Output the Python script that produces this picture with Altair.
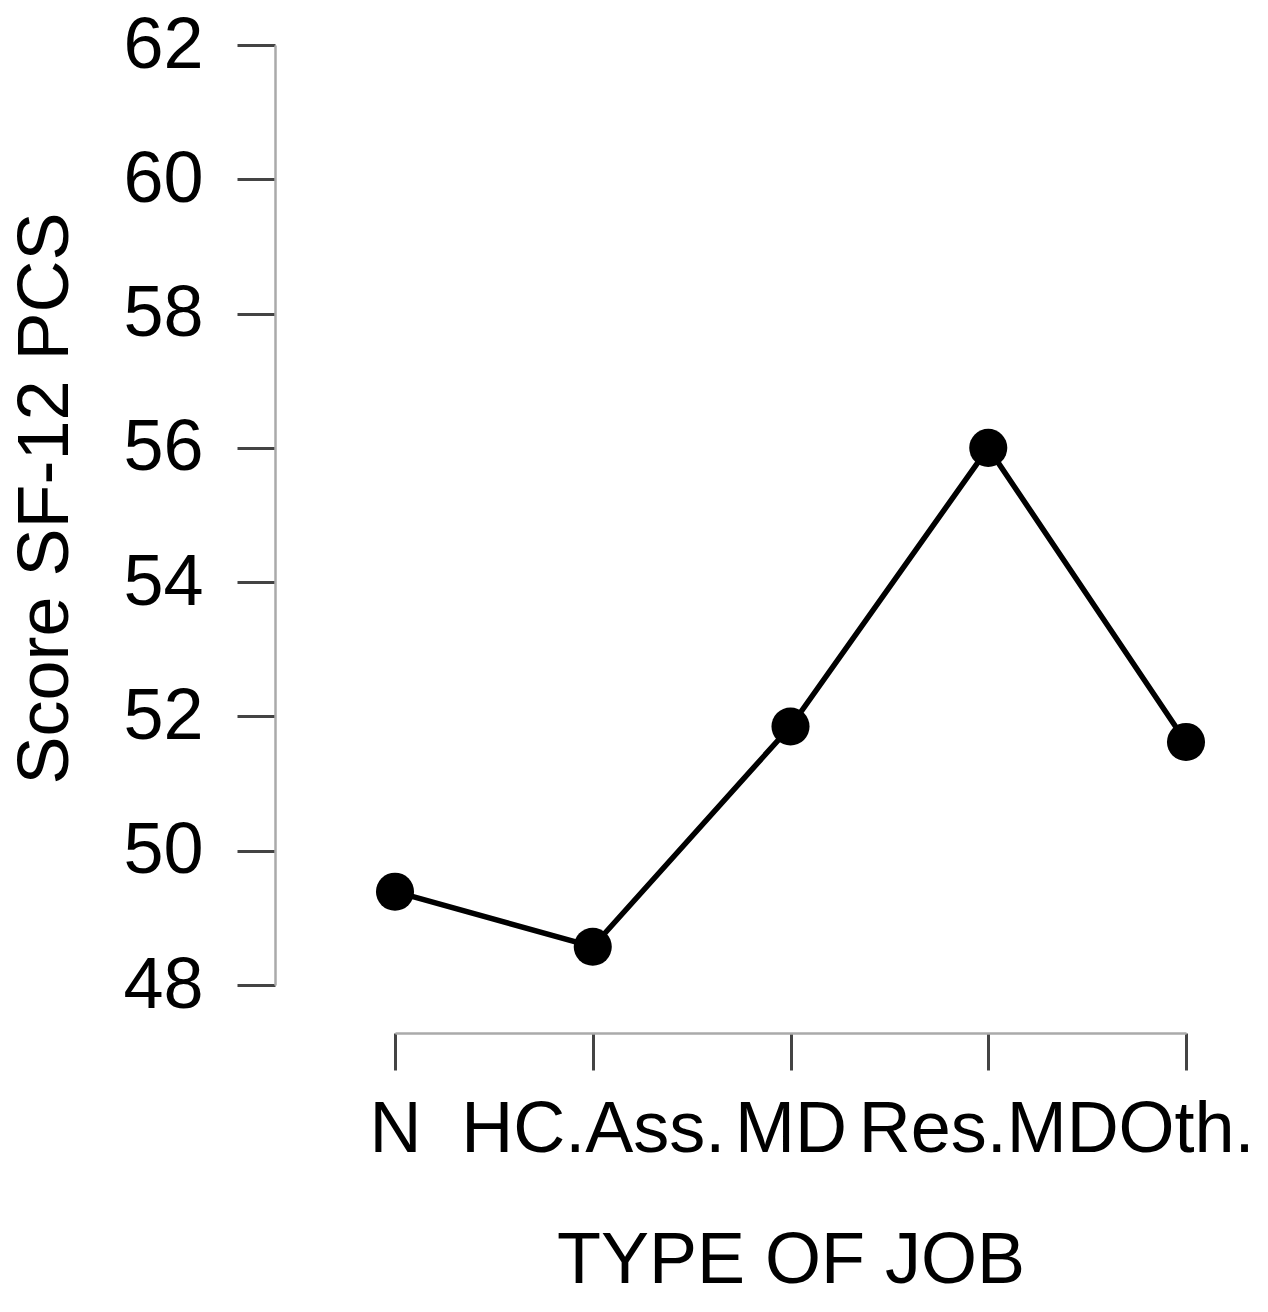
import altair as alt
import pandas as pd

jobs = ["N", "HC.Ass.", "MD", "Res.MD", "Oth."]
scores = [49.39, 48.57, 51.85, 56.0, 51.62]

df = pd.DataFrame({"job": jobs, "score": scores})

FONT = "Liberation Sans"

x = alt.X(
    "job:N",
    sort=jobs,
    scale=alt.Scale(type="point", padding=0),
    axis=alt.Axis(
        title="TYPE OF JOB",
        labelAngle=0,
        labelOverlap=False,
        labelLimit=0,
        labelFontSize=72,
        labelFont=FONT,
        labelColor="black",
        labelPadding=24,
        tickSize=37,
        tickWidth=3,
        tickColor="#444444",
        domainColor="#aaaaaa",
        domainWidth=2.5,
        offset=48,
        titleFontSize=72,
        titleFont=FONT,
        titleFontWeight="normal",
        titleColor="black",
        titlePadding=60,
        grid=False,
    ),
)
y = alt.Y(
    "score:Q",
    scale=alt.Scale(domain=[48, 62], nice=False, zero=False),
    axis=alt.Axis(
        title="Score SF-12 PCS",
        values=[48, 50, 52, 54, 56, 58, 60, 62],
        labelFontSize=72,
        labelFont=FONT,
        labelColor="black",
        labelPadding=34,
        tickSize=38,
        tickWidth=3,
        tickColor="#444444",
        domainColor="#aaaaaa",
        domainWidth=2.5,
        offset=120,
        titleFontSize=72,
        titleFont=FONT,
        titleFontWeight="normal",
        titleColor="black",
        titlePadding=40,
        titleY=453,
        grid=False,
    ),
)

line = alt.Chart(df).mark_line(color="black", strokeWidth=5.5).encode(x=x, y=y)
pts = alt.Chart(df).mark_circle(color="black", opacity=1, size=1450).encode(x=x, y=y)

chart = (
    alt.layer(line, pts, view=alt.ViewBackground(stroke="transparent", strokeWidth=0))
    .properties(
        width=791,
        height=940,
        autosize=alt.AutoSizeParams(type="none"),
        padding={"left": 387, "top": 37, "right": 72, "bottom": 320},
    )
    .configure_view(stroke="transparent", strokeWidth=0)
    .configure(background="white")
)

chart.save("out.html", embed_options={"renderer": "svg", "actions": False})
